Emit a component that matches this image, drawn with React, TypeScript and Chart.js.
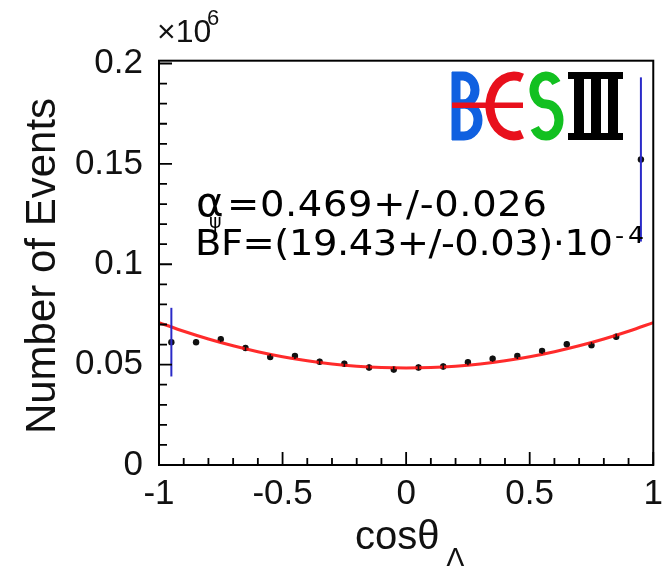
import { useEffect, useRef } from "react";
import { Chart, registerables } from "chart.js";

Chart.register(...registerables);

// cosθ_Λ bin centres (20 bins of width 0.1)
const BIN_CENTERS = [
  -0.95, -0.85, -0.75, -0.65, -0.55, -0.45, -0.35, -0.25, -0.15, -0.05,
  0.05, 0.15, 0.25, 0.35, 0.45, 0.55, 0.65, 0.75, 0.85, 0.95,
];
// events per bin (×10^6)
const EVENTS = [
  0.0612, 0.0612, 0.0627, 0.0583, 0.0538, 0.0543, 0.0514, 0.0504, 0.0486, 0.0476,
  0.0486, 0.0491, 0.0512, 0.0529, 0.0543, 0.0568, 0.0602, 0.0597, 0.0639, 0.1522,
];
// uncertainty per bin (×10^6)
const EVENT_ERRORS = [
  0.0171, 0.0015, 0.0015, 0.0015, 0.0015, 0.0015, 0.0015, 0.0015, 0.0015, 0.0015,
  0.0015, 0.0015, 0.0015, 0.0015, 0.0015, 0.0015, 0.0015, 0.0015, 0.0015, 0.0409,
];

const X_TICKS = [-1, -0.5, 0, 0.5, 1];
const Y_TICKS = [0, 0.05, 0.1, 0.15, 0.2];
const X_RANGE = [-1, 1];
const Y_RANGE = [0, 0.2014];

// angular distribution fit: N(1 + α cos²θ)
const FIT_ALPHA = 0.469;
const FIT_NORM = 0.0483;
const FIT_X = [
  -1, -0.9, -0.8, -0.7, -0.6, -0.5, -0.4, -0.3, -0.2, -0.1, 0,
  0.1, 0.2, 0.3, 0.4, 0.5, 0.6, 0.7, 0.8, 0.9, 1,
];

const ALPHA_LINE = "=0.469+/-0.026";
const BF_LINE = "BF=(19.43+/-0.03)·10";
const BF_EXP = "-4";
const Y_TITLE = "Number of Events";
const X_TITLE = "cosθ";
const X_TITLE_SUB = "Λ";

const AXIS_FONT = "'Liberation Sans', Arial, sans-serif";
const NOTE_FONT = "'DejaVu Sans', sans-serif";

function fitText(
  ctx: CanvasRenderingContext2D,
  text: string,
  x: number,
  y: number,
  width: number,
  hs: number
) {
  ctx.save();
  (ctx as any).letterSpacing = "0px";
  const w0 = ctx.measureText(text).width * hs;
  const n = Array.from(text).length;
  const ls = (width - w0) / hs / Math.max(1, n - 1);
  (ctx as any).letterSpacing = ls.toFixed(2) + "px";
  ctx.translate(x, y);
  ctx.scale(hs, 1);
  ctx.fillText(text, 0, 0);
  ctx.restore();
}

function drawLogo(ctx: CanvasRenderingContext2D) {
  ctx.save();
  ctx.lineWidth = 9;
  ctx.lineCap = "butt";
  ctx.lineJoin = "miter";

  // B
  ctx.strokeStyle = "#1060e0";
  ctx.beginPath();
  ctx.moveTo(456, 72);
  ctx.lineTo(456, 140);
  ctx.stroke();
  ctx.beginPath();
  ctx.moveTo(452, 76);
  ctx.lineTo(463, 76);
  ctx.ellipse(463, 90, 12, 14, 0, -Math.PI / 2, Math.PI / 2, false);
  ctx.lineTo(452, 104);
  ctx.stroke();
  ctx.beginPath();
  ctx.moveTo(452, 104);
  ctx.lineTo(464, 104);
  ctx.ellipse(464, 120, 14, 16, 0, -Math.PI / 2, Math.PI / 2, false);
  ctx.lineTo(452, 136);
  ctx.stroke();

  // red bar through B and E
  ctx.fillStyle = "#e8101c";
  ctx.fillRect(452, 102.5, 71, 5.5);

  // E drawn as an open arc
  ctx.strokeStyle = "#e8101c";
  ctx.beginPath();
  ctx.ellipse(514, 106, 24, 30, 0, -Math.PI * 0.39, Math.PI * 0.39, true);
  ctx.stroke();

  // S
  ctx.strokeStyle = "#12c020";
  ctx.beginPath();
  ctx.ellipse(546, 90, 12, 14, 0, -Math.PI / 6, Math.PI / 2, true);
  ctx.ellipse(546, 120, 13, 16, 0, -Math.PI / 2, (5 * Math.PI) / 6, false);
  ctx.stroke();

  // III
  ctx.fillStyle = "#000";
  ctx.fillRect(568, 72, 55, 7);
  ctx.fillRect(568, 133, 55, 7);
  ctx.fillRect(574, 72, 10, 68);
  ctx.fillRect(591, 72, 10, 68);
  ctx.fillRect(608, 72, 10, 68);
  ctx.restore();
}

const decorations = {
  id: "decorations",
  afterDatasetsDraw(chart: any) {
    const { ctx, chartArea: a, scales } = chart;
    const xs = scales.x;
    const ys = scales.y;

    // error bars
    ctx.save();
    BIN_CENTERS.forEach((c, i) => {
      const err = EVENT_ERRORS[i];
      const px = xs.getPixelForValue(c);
      ctx.strokeStyle = err > 0.01 ? "#2a2ac8" : "#111";
      ctx.lineWidth = err > 0.01 ? 2 : 1.5;
      ctx.beginPath();
      ctx.moveTo(px, ys.getPixelForValue(EVENTS[i] + err));
      ctx.lineTo(px, ys.getPixelForValue(EVENTS[i] - err));
      ctx.stroke();
    });
    ctx.restore();

    // frame and inward ticks
    ctx.save();
    ctx.strokeStyle = "#000";
    ctx.lineWidth = 2;
    ctx.strokeRect(a.left, a.top, a.right - a.left, a.bottom - a.top);
    ctx.lineWidth = 1.8;
    ctx.beginPath();
    for (let k = 0; k <= 20; k++) {
      const v = X_RANGE[0] + k * 0.1;
      const px = xs.getPixelForValue(v);
      const len = k % 5 === 0 ? 13 : 7;
      ctx.moveTo(px, a.bottom);
      ctx.lineTo(px, a.bottom - len);
    }
    for (let k = 0; k <= 20; k++) {
      const v = k * 0.01;
      const py = ys.getPixelForValue(v);
      const len = k % 5 === 0 ? 13 : 8;
      ctx.moveTo(a.left, py);
      ctx.lineTo(a.left + len, py);
    }
    ctx.stroke();
    ctx.restore();
  },
  afterDraw(chart: any) {
    const { ctx } = chart;
    ctx.save();
    ctx.fillStyle = "#111";
    ctx.textBaseline = "alphabetic";

    // exponent marker
    ctx.font = `32px ${AXIS_FONT}`;
    ctx.textAlign = "left";
    ctx.fillText("×10", 157, 42);
    ctx.font = `22px ${AXIS_FONT}`;
    ctx.fillText("6", 207, 25);

    // axis titles
    ctx.font = `42px ${AXIS_FONT}`;
    ctx.save();
    ctx.translate(55, 266);
    ctx.rotate(-Math.PI / 2);
    ctx.textAlign = "center";
    ctx.fillText(Y_TITLE, 0, 0);
    ctx.restore();

    ctx.font = `40px ${AXIS_FONT}`;
    ctx.textAlign = "left";
    ctx.fillText(X_TITLE, 355, 549);
    ctx.font = `28px ${AXIS_FONT}`;
    ctx.fillText(X_TITLE_SUB, 446, 567);

    // fit results
    ctx.fillStyle = "#000";
    ctx.font = `40px ${NOTE_FONT}`;
    fitText(ctx, "α", 196, 216, 25, 1.05);
    ctx.font = `19px ${NOTE_FONT}`;
    ctx.fillText("ψ", 209, 228);
    ctx.font = `35px ${NOTE_FONT}`;
    fitText(ctx, ALPHA_LINE, 227, 216, 320, 1.1);
    fitText(ctx, BF_LINE, 195, 255, 418, 1.1);
    ctx.font = `23px ${NOTE_FONT}`;
    fitText(ctx, BF_EXP, 615, 243, 29, 1.1);
    ctx.restore();

    drawLogo(ctx);
  },
};

export default function App() {
  const canvasRef = useRef<HTMLCanvasElement | null>(null);

  useEffect(() => {
    document.body.style.margin = "0";
    document.body.style.background = "#fff";
    const canvas = canvasRef.current;
    if (!canvas) return;

    const points = BIN_CENTERS.map((x, i) => ({ x, y: EVENTS[i] }));
    const fit = FIT_X.map((x) => ({ x, y: FIT_NORM * (1 + FIT_ALPHA * x * x) }));

    const chart = new Chart(canvas, {
      type: "scatter",
      data: {
        datasets: [
          {
            label: "fit",
            data: fit,
            showLine: true,
            borderColor: "rgba(255,20,20,0.9)",
            borderWidth: 3,
            pointRadius: 0,
            cubicInterpolationMode: "monotone",
          },
          {
            label: "data",
            data: points,
            pointRadius: 3.2,
            pointBackgroundColor: "#111",
            pointBorderWidth: 0,
          },
        ],
      },
      options: {
        animation: false,
        responsive: true,
        maintainAspectRatio: false,
        layout: { padding: { left: 0, right: 12.5, top: 60.7, bottom: 0 } },
        plugins: {
          legend: { display: false },
          tooltip: { enabled: false },
        },
        scales: {
          x: {
            type: "linear",
            min: X_RANGE[0],
            max: X_RANGE[1],
            grid: { display: false, drawTicks: false },
            border: { display: false },
            afterBuildTicks: (s: any) => {
              s.ticks = X_TICKS.map((value) => ({ value }));
            },
            afterFit: (s: any) => {
              s.height = 101;
            },
            ticks: {
              color: "#111",
              padding: 8,
              maxRotation: 0,
              autoSkip: false,
              font: { family: AXIS_FONT, size: 35 },
              callback: (v: any) => String(v),
            },
          },
          y: {
            type: "linear",
            min: Y_RANGE[0],
            max: Y_RANGE[1],
            grid: { display: false, drawTicks: false },
            border: { display: false },
            afterBuildTicks: (s: any) => {
              s.ticks = Y_TICKS.map((value) => ({ value }));
            },
            afterFit: (s: any) => {
              s.width = 159;
            },
            ticks: {
              color: "#111",
              padding: 16,
              autoSkip: false,
              font: { family: AXIS_FONT, size: 35 },
              callback: (v: any) => String(v),
            },
          },
        },
      },
      plugins: [decorations],
    });

    return () => chart.destroy();
  }, []);

  return (
    <div style={{ width: 671, height: 566, position: "relative", overflow: "hidden" }}>
      <canvas ref={canvasRef} />
    </div>
  );
}
